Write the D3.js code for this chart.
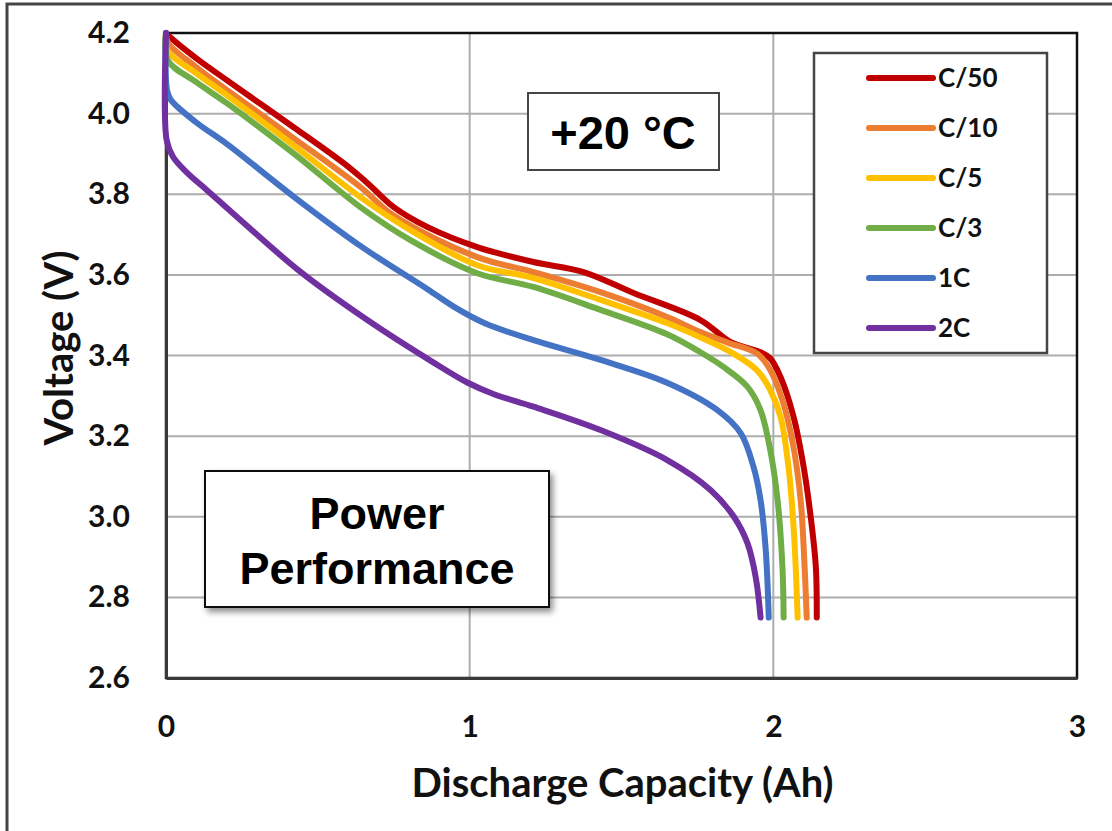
<!DOCTYPE html>
<html>
<head>
<meta charset="utf-8">
<script src="https://cdn.jsdelivr.net/npm/d3@7"></script>
<style>
  html, body { margin: 0; padding: 0; background: #fff; }
  svg { display: block; }
</style>
</head>
<body>
<svg id="chart" width="1112" height="831"></svg>
<script>
// Discharge curves at +20 °C: [capacity (Ah), voltage (V)]
const rateC50 = [[0,4.20],[0.013,4.19],[0.1,4.137],[0.2,4.083],[0.419,3.967],[0.585,3.877],[0.663,3.828],[0.75,3.768],[0.86,3.719],[1.025,3.669],[1.21,3.632],[1.375,3.607],[1.54,3.555],[1.76,3.488],[1.86,3.433],[1.958,3.408],[1.99,3.393],[2.024,3.346],[2.067,3.247],[2.1,3.123],[2.123,3.0],[2.14,2.875],[2.143,2.75]];
const rateC10 = [[0,4.20],[0.006,4.176],[0.1,4.115],[0.2,4.059],[0.419,3.94],[0.64,3.818],[0.75,3.747],[1.025,3.644],[1.21,3.607],[1.431,3.557],[1.652,3.495],[1.76,3.458],[1.85,3.432],[1.948,3.404],[1.99,3.364],[2.03,3.289],[2.064,3.183],[2.09,3.041],[2.103,2.875],[2.11,2.75]];
const rateC5  = [[0,4.20],[0.006,4.155],[0.1,4.1],[0.2,4.046],[0.419,3.922],[0.64,3.793],[0.805,3.711],[1.025,3.624],[1.21,3.592],[1.431,3.538],[1.652,3.48],[1.76,3.445],[1.87,3.404],[1.948,3.362],[1.99,3.314],[2.024,3.247],[2.05,3.123],[2.068,2.959],[2.08,2.75]];
const rateC3  = [[0,4.20],[0.006,4.132],[0.1,4.078],[0.2,4.026],[0.419,3.902],[0.64,3.768],[0.805,3.686],[1.025,3.604],[1.21,3.570],[1.431,3.513],[1.652,3.452],[1.76,3.408],[1.837,3.371],[1.915,3.322],[1.958,3.264],[1.99,3.165],[2.014,3.041],[2.03,2.875],[2.034,2.75]];
const rate1C  = [[0,4.20],[0.003,4.06],[0.015,4.035],[0.1,3.978],[0.2,3.925],[0.419,3.795],[0.64,3.672],[0.86,3.565],[0.95,3.52],[1.05,3.48],[1.21,3.438],[1.431,3.389],[1.652,3.332],[1.817,3.264],[1.893,3.207],[1.935,3.123],[1.958,3.041],[1.975,2.917],[1.985,2.75]];
const rate2C  = [[0,4.20],[0.002,3.935],[0.023,3.893],[0.07,3.853],[0.135,3.81],[0.22,3.753],[0.442,3.608],[0.663,3.488],[0.88,3.383],[0.992,3.333],[1.08,3.304],[1.21,3.273],[1.431,3.215],[1.652,3.14],[1.794,3.066],[1.87,3.0],[1.915,2.934],[1.942,2.85],[1.958,2.75]];

const seriesNames  = ["C/50", "C/10", "C/5", "C/3", "1C", "2C"];
const seriesData   = [rateC50, rateC10, rateC5, rateC3, rate1C, rate2C];
const seriesColors = ["#C00000", "#ED7D31", "#FFC000", "#70AD47", "#4472C4", "#7030A0"];

const xTicks = [0, 1, 2, 3];
const yTicks = [2.6, 2.8, 3.0, 3.2, 3.4, 3.6, 3.8, 4.0, 4.2];

const svg = d3.select("#chart");
const plot = { left: 166, right: 1077, top: 33, bottom: 678 };

const x = d3.scaleLinear().domain([0, 3]).range([plot.left, plot.right]);
const y = d3.scaleLinear().domain([2.6, 4.2]).range([plot.bottom, plot.top]);

const calibriLike = "Lato, 'Open Sans', sans-serif";
const arialLike = "'Liberation Sans', Arial, sans-serif";

// drop shadow for the annotation box
const defs = svg.append("defs");
const shadow = defs.append("filter").attr("id", "shadow")
  .attr("x", "-10%").attr("y", "-10%").attr("width", "130%").attr("height", "140%");
shadow.append("feDropShadow").attr("dx", 3).attr("dy", 4).attr("stdDeviation", 3)
  .attr("flood-color", "#000").attr("flood-opacity", 0.45);

// outer frame
svg.append("rect").attr("x", 7).attr("y", 4).attr("width", 1120).attr("height", 840)
  .attr("fill", "#fff").attr("stroke", "#454545").attr("stroke-width", 3);

// gridlines
svg.append("g").selectAll("line").data(yTicks.filter(d => d > 2.6 && d < 4.2)).join("line")
  .attr("x1", plot.left).attr("x2", plot.right)
  .attr("y1", d => y(d)).attr("y2", d => y(d))
  .attr("stroke", "#ADADAD").attr("stroke-width", 2);
svg.append("g").selectAll("line").data(xTicks.filter(d => d > 0 && d < 3)).join("line")
  .attr("x1", d => x(d)).attr("x2", d => x(d))
  .attr("y1", plot.top).attr("y2", plot.bottom)
  .attr("stroke", "#ADADAD").attr("stroke-width", 2);

// plot border
svg.append("rect").attr("x", plot.left).attr("y", plot.top)
  .attr("width", plot.right - plot.left).attr("height", plot.bottom - plot.top)
  .attr("fill", "none").attr("stroke", "#111").attr("stroke-width", 2.5);

// axes
const xAxis = d3.axisBottom(x).tickValues(xTicks).tickFormat(d3.format("d")).tickSize(0).tickPadding(38);
const yAxis = d3.axisLeft(y).tickValues(yTicks).tickFormat(d3.format(".1f")).tickSize(0).tickPadding(36);

const gx = svg.append("g").attr("transform", `translate(0,${plot.bottom})`).call(xAxis);
const gy = svg.append("g").attr("transform", `translate(${plot.left},0)`).call(yAxis);
[gx, gy].forEach(g => {
  g.select(".domain").attr("stroke", "#3a3a3a").attr("stroke-width", 3);
  g.selectAll("text").attr("font-family", calibriLike).attr("font-weight", 700)
    .attr("font-size", 30).attr("fill", "#111");
});

// curves
const line = d3.line().x(d => x(d[0])).y(d => y(d[1])).curve(d3.curveCatmullRom.alpha(0.5));
svg.append("g").selectAll("path").data(seriesData).join("path")
  .attr("d", line)
  .attr("fill", "none")
  .attr("stroke", (d, i) => seriesColors[i])
  .attr("stroke-width", 6)
  .attr("stroke-linecap", "round")
  .attr("stroke-linejoin", "round");

// axis titles
svg.append("text").attr("x", (plot.left + plot.right) / 2 + 1).attr("y", 797)
  .attr("text-anchor", "middle").attr("font-family", calibriLike).attr("font-weight", 700)
  .attr("font-size", 40).attr("fill", "#111").text("Discharge Capacity (Ah)");
svg.append("text").attr("transform", "translate(73,348) rotate(-90)")
  .attr("text-anchor", "middle").attr("font-family", calibriLike).attr("font-weight", 700)
  .attr("font-size", 40).attr("fill", "#111").text("Voltage (V)");

// legend
const legend = svg.append("g");
legend.append("rect").attr("x", 814).attr("y", 53).attr("width", 233).attr("height", 300)
  .attr("fill", "#fff").attr("stroke", "#454545").attr("stroke-width", 2.5);
const items = legend.selectAll("g.item").data(seriesNames).join("g")
  .attr("class", "item")
  .attr("transform", (d, i) => `translate(0,${78 + i * 50})`);
items.append("line").attr("x1", 869).attr("x2", 933).attr("y1", 0).attr("y2", 0)
  .attr("stroke", (d, i) => seriesColors[i]).attr("stroke-width", 6).attr("stroke-linecap", "round");
items.append("text").attr("x", 938).attr("y", 0).attr("dy", "0.35em")
  .attr("font-family", calibriLike).attr("font-weight", 700).attr("font-size", 26)
  .attr("fill", "#111").text(d => d);

// temperature label
svg.append("rect").attr("x", 528).attr("y", 93).attr("width", 191).attr("height", 77)
  .attr("fill", "#fff").attr("stroke", "#454545").attr("stroke-width", 2);
svg.append("text").attr("x", 623).attr("y", 149).attr("text-anchor", "middle")
  .attr("font-family", arialLike).attr("font-weight", 700).attr("font-size", 47)
  .attr("fill", "#000").text("+20 °C");

// annotation box
svg.append("rect").attr("x", 205).attr("y", 471).attr("width", 344).attr("height", 136)
  .attr("fill", "#fff").attr("stroke", "#111").attr("stroke-width", 2)
  .attr("filter", "url(#shadow)");
svg.append("text").attr("x", 377).attr("y", 529).attr("text-anchor", "middle")
  .attr("font-family", arialLike).attr("font-weight", 700).attr("font-size", 45)
  .attr("fill", "#000").text("Power");
svg.append("text").attr("x", 377).attr("y", 584).attr("text-anchor", "middle")
  .attr("font-family", arialLike).attr("font-weight", 700).attr("font-size", 45)
  .attr("fill", "#000").text("Performance");
</script>
</body>
</html>
